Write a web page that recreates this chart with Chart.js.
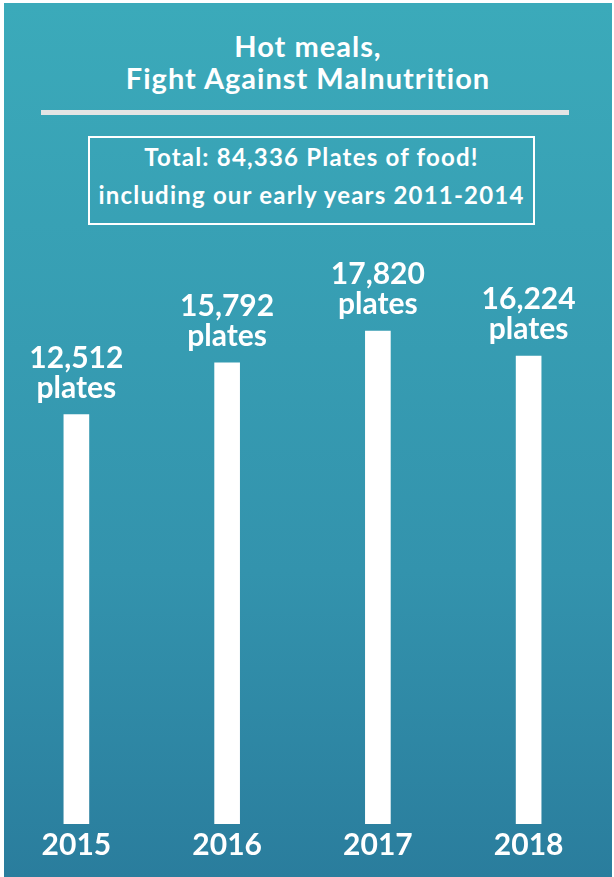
<!DOCTYPE html>
<html>
<head>
<meta charset="utf-8">
<script src="https://cdn.jsdelivr.net/npm/chart.js@4/dist/chart.umd.min.js"></script>
<style>
  html, body { margin: 0; padding: 0; background: #fff; }
  #page { position: relative; width: 614px; height: 877px; overflow: hidden; font-family: Lato, sans-serif; color: #fff; }
  #panel { position: absolute; left: 4px; top: 3px; width: 608px; height: 874px;
           background: linear-gradient(to bottom, #3baaba 0%, #3393ad 65%, #2a7d9d 100%); }
  #title { position: absolute; left: 4px; width: 608px; top: 30px; text-align: center;
           font-size: 29px; font-weight: bold; line-height: 32px; letter-spacing: 1px; }
  #rule { position: absolute; left: 41px; top: 110px; width: 528px; height: 5px; background: #e4e4e4; }
  #box { position: absolute; left: 88px; top: 136px; width: 443px; height: 85px; border: 2px solid #fff;
         text-align: center; font-size: 24px; font-weight: bold; letter-spacing: 1.2px; }
  #box div { position: absolute; left: 0; right: 0; line-height: 28px; }
  #chart { position: absolute; left: 0; top: 0; }
</style>
</head>
<body>
<div id="page">
  <div id="panel"></div>
  <div id="title">Hot meals,<br>Fight Against Malnutrition</div>
  <div id="rule"></div>
  <div id="box">
    <div style="top:5px">Total: 84,336 Plates of food!</div>
    <div style="top:43px">including our early years 2011-2014</div>
  </div>
  <canvas id="chart" width="614" height="877"></canvas>
</div>
<script>
const years = ['2015', '2016', '2017', '2018'];
const plates = [12512, 15792, 17820, 16224];
const unitLabel = 'plates';
const yMin = -13500;
const yMax = 25000;

// draws "12,512 / plates" above each bar
const barLabels = {
    id: 'barLabels',
    afterDatasetsDraw(chart) {
        const ctx = chart.ctx;
        const meta = chart.getDatasetMeta(0);
        ctx.save();
        ctx.fillStyle = '#fff';
        ctx.font = 'bold 30px Lato';
        ctx.textAlign = 'center';
        ctx.textBaseline = 'alphabetic';
        meta.data.forEach((bar, i) => {
            ctx.fillText(plates[i].toLocaleString('en-US'), bar.x, bar.y - 47);
            ctx.fillText(unitLabel, bar.x, bar.y - 17);
        });
        ctx.restore();
    }
};

function drawChart() {
    const ctx = document.getElementById('chart').getContext('2d');
    new Chart(ctx, {
        type: 'bar',
        data: {
            labels: years,
            datasets: [{
                label: 'Plates',
                data: plates,
                base: yMin,
                backgroundColor: '#ffffff',
                borderWidth: 0,
                barThickness: 25
            }]
        },
        options: {
            responsive: false,
            animation: false,
            devicePixelRatio: 1,
            layout: { padding: { top: 218, left: 1, right: 10, bottom: 11 } },
            plugins: {
                legend: { display: false },
                tooltip: { enabled: false }
            },
            scales: {
                x: {
                    grid: { display: false, drawTicks: false },
                    border: { display: false },
                    ticks: {
                        color: '#fff',
                        padding: 3,
                        font: { family: 'Lato', size: 30, weight: 'bold' }
                    }
                },
                y: {
                    display: false,
                    min: yMin,
                    max: yMax
                }
            }
        },
        plugins: [barLabels]
    });
}

document.fonts.load('bold 30px Lato').then(drawChart, drawChart);
</script>
</body>
</html>
